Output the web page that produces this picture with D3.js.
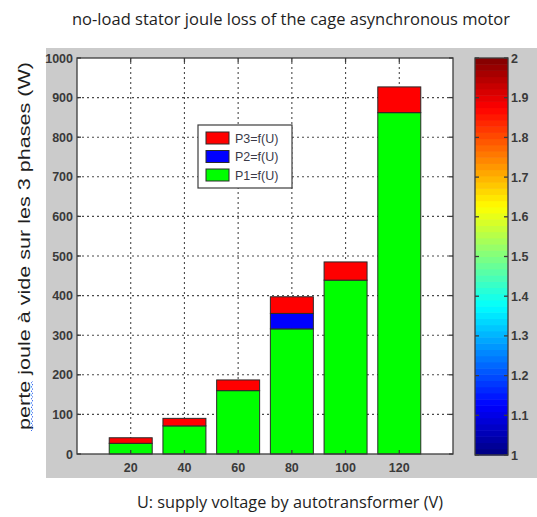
<!DOCTYPE html>
<html>
<head>
<meta charset="utf-8">
<script src="https://cdn.jsdelivr.net/npm/d3@7/dist/d3.min.js"></script>
<style>
  html, body { margin: 0; padding: 0; background: #ffffff; }
  svg { display: block; }
</style>
</head>
<body>
<svg id="chart" width="537" height="517"></svg>
<script>
// Supply voltage steps (V)
const voltages = [20, 40, 60, 80, 100, 120];
// Stator joule loss per phase (W), stacked P1 + P2 + P3
const p1 = [27, 71, 160, 316, 439, 862];
const p2 = [0, 0, 0, 39, 0, 0];
const p3 = [14, 19, 27, 42, 46, 65];
const seriesKeys = ["P1", "P2", "P3"];
const seriesLabels = { P1: "P1=f(U)", P2: "P2=f(U)", P3: "P3=f(U)" };
const seriesColors = { P1: "#00ff00", P2: "#0000ff", P3: "#ff0000" };
const yTicks = [0, 100, 200, 300, 400, 500, 600, 700, 800, 900, 1000];
const cbTicks = [1, 1.1, 1.2, 1.3, 1.4, 1.5, 1.6, 1.7, 1.8, 1.9, 2];

const titleText = "no-load stator joule loss of the cage asynchronous motor";
const xLabelText = "U: supply voltage by autotransformer (V)";
const yLabelText = "perte joule à vide sur les 3 phases (W)";

const svg = d3.select("#chart");
const axisColor = "#3c3c3c";
const tickFont = "'Liberation Sans', Arial, sans-serif";
const tickColor = "#3a3a3a";

// figure panel
svg.append("rect").attr("x", 46).attr("y", 48).attr("width", 491).attr("height", 430)
  .attr("fill", "#cbcbcb");

const x = d3.scaleLinear().domain([0, 140]).range([77, 453]);
const y = d3.scaleLinear().domain([0, 1000]).range([454, 58]);

// plot area
svg.append("rect").attr("x", x(0)).attr("y", y(1000))
  .attr("width", x(140) - x(0)).attr("height", y(0) - y(1000)).attr("fill", "#ffffff");

// dotted grid
const grid = svg.append("g").attr("stroke", "#4a4a4a").attr("stroke-width", 1.1)
  .attr("stroke-dasharray", "2,3");
grid.selectAll("line.h").data(yTicks.slice(1, -1)).join("line").attr("class", "h")
  .attr("x1", x(0)).attr("x2", x(140)).attr("y1", d => y(d)).attr("y2", d => y(d));
grid.selectAll("line.v").data(voltages).join("line").attr("class", "v")
  .attr("x1", d => x(d)).attr("x2", d => x(d)).attr("y1", y(0)).attr("y2", y(1000));

// stacked bars
const rows = voltages.map((v, i) => ({ U: v, P1: p1[i], P2: p2[i], P3: p3[i] }));
const stacked = d3.stack().keys(seriesKeys)(rows);
const halfW = 8;
svg.append("g").selectAll("g").data(stacked).join("g")
  .attr("fill", d => seriesColors[d.key])
  .selectAll("rect").data(d => d.filter(s => s[1] - s[0] > 0)).join("rect")
  .attr("x", d => x(d.data.U - halfW))
  .attr("width", d => x(d.data.U + halfW) - x(d.data.U - halfW))
  .attr("y", d => y(d[1]))
  .attr("height", d => y(d[0]) - y(d[1]))
  .attr("stroke", "#2a2a2a").attr("stroke-width", 1);

// axes box with inward ticks
const box = svg.append("g").attr("stroke", axisColor).attr("stroke-width", 1.3).attr("fill", "none");
box.append("rect").attr("x", x(0)).attr("y", y(1000))
  .attr("width", x(140) - x(0)).attr("height", y(0) - y(1000));
const tickLen = 4;
yTicks.forEach(t => {
  box.append("line").attr("x1", x(0)).attr("x2", x(0) + tickLen).attr("y1", y(t)).attr("y2", y(t));
  box.append("line").attr("x1", x(140)).attr("x2", x(140) - tickLen).attr("y1", y(t)).attr("y2", y(t));
});
voltages.forEach(v => {
  box.append("line").attr("x1", x(v)).attr("x2", x(v)).attr("y1", y(0)).attr("y2", y(0) - tickLen);
  box.append("line").attr("x1", x(v)).attr("x2", x(v)).attr("y1", y(1000)).attr("y2", y(1000) + tickLen);
});

// tick labels
svg.append("g").selectAll("text").data(yTicks).join("text")
  .attr("x", x(0) - 4).attr("y", d => y(d)).attr("dy", "0.36em")
  .attr("text-anchor", "end").attr("font-family", tickFont).attr("font-size", 12.5)
  .attr("font-weight", "bold").attr("fill", tickColor).text(d => d);
svg.append("g").selectAll("text").data(voltages).join("text")
  .attr("x", d => x(d)).attr("y", 472)
  .attr("text-anchor", "middle").attr("font-family", tickFont).attr("font-size", 12.5)
  .attr("font-weight", "bold").attr("fill", tickColor).text(d => d);

// legend
const lg = svg.append("g");
lg.append("rect").attr("x", 198).attr("y", 125).attr("width", 94).attr("height", 63)
  .attr("fill", "#ffffff").attr("stroke", axisColor).attr("stroke-width", 1.2);
["P3", "P2", "P1"].forEach((k, i) => {
  const yy = 132 + i * 18.5;
  lg.append("rect").attr("x", 206).attr("y", yy).attr("width", 23).attr("height", 12)
    .attr("fill", seriesColors[k]).attr("stroke", "#2a2a2a").attr("stroke-width", 1);
  lg.append("text").attr("x", 235).attr("y", yy + 6).attr("dy", "0.36em")
    .attr("font-family", tickFont).attr("font-size", 12.5).attr("fill", "#3a3a48")
    .text(seriesLabels[k]);
});

// colorbar (jet colormap, 64 levels)
function jet(t) {
  const c = v => Math.max(0, Math.min(1, v));
  const r = c(1.5 - Math.abs(4 * t - 3));
  const g = c(1.5 - Math.abs(4 * t - 2));
  const b = c(1.5 - Math.abs(4 * t - 1));
  return d3.rgb(r * 255, g * 255, b * 255).toString();
}
const cbY = d3.scaleLinear().domain([1, 2]).range([455, 58]);
const cbX0 = 475, cbX1 = 508;
const levels = d3.range(64);
svg.append("g").selectAll("rect").data(levels).join("rect")
  .attr("x", cbX0).attr("width", cbX1 - cbX0)
  .attr("y", i => cbY(1 + (i + 1) / 64)).attr("height", i => cbY(1 + i / 64) - cbY(1 + (i + 1) / 64) + 0.5)
  .attr("fill", i => jet((i + 0.5) / 64));
const cb = svg.append("g").attr("stroke", axisColor).attr("stroke-width", 1.3).attr("fill", "none");
cb.append("rect").attr("x", cbX0).attr("y", cbY(2)).attr("width", cbX1 - cbX0).attr("height", cbY(1) - cbY(2));
cbTicks.forEach(t => {
  cb.append("line").attr("x1", cbX0).attr("x2", cbX0 + 4).attr("y1", cbY(t)).attr("y2", cbY(t));
  cb.append("line").attr("x1", cbX1).attr("x2", cbX1 - 4).attr("y1", cbY(t)).attr("y2", cbY(t));
});
svg.append("g").selectAll("text").data(cbTicks).join("text")
  .attr("x", cbX1 + 3).attr("y", d => cbY(d)).attr("dy", "0.36em")
  .attr("font-family", tickFont).attr("font-size", 12.5).attr("font-weight", "bold")
  .attr("fill", tickColor).text(d => d3.format("~g")(d));

// titles
svg.append("text").attr("x", 291).attr("y", 25).attr("text-anchor", "middle")
  .attr("font-family", "'Open Sans', sans-serif").attr("font-size", 15.5).attr("fill", "#1e1e1e")
  .attr("textLength", 438).attr("lengthAdjust", "spacingAndGlyphs").text(titleText);
svg.append("text").attr("x", 290).attr("y", 508).attr("text-anchor", "middle")
  .attr("font-family", "'Open Sans', sans-serif").attr("font-size", 17).attr("fill", "#1e1e1e")
  .attr("textLength", 306).attr("lengthAdjust", "spacingAndGlyphs").text(xLabelText);
svg.append("text").attr("transform", "translate(30,246) rotate(-90)").attr("text-anchor", "middle")
  .attr("font-family", tickFont).attr("font-size", 17).attr("fill", "#1e1e1e")
  .attr("textLength", 368).attr("lengthAdjust", "spacingAndGlyphs").text(yLabelText);

// spell-check squiggle under "perte"
const sq = d3.range(0, 52, 2).map((d, i) => [i % 2 ? 33 : 31, 431 - d]);
svg.append("path").attr("d", d3.line()(sq)).attr("fill", "none")
  .attr("stroke", "#3a6cf0").attr("stroke-width", 1).attr("stroke-dasharray", "1.5,1");
</script>
</body>
</html>
